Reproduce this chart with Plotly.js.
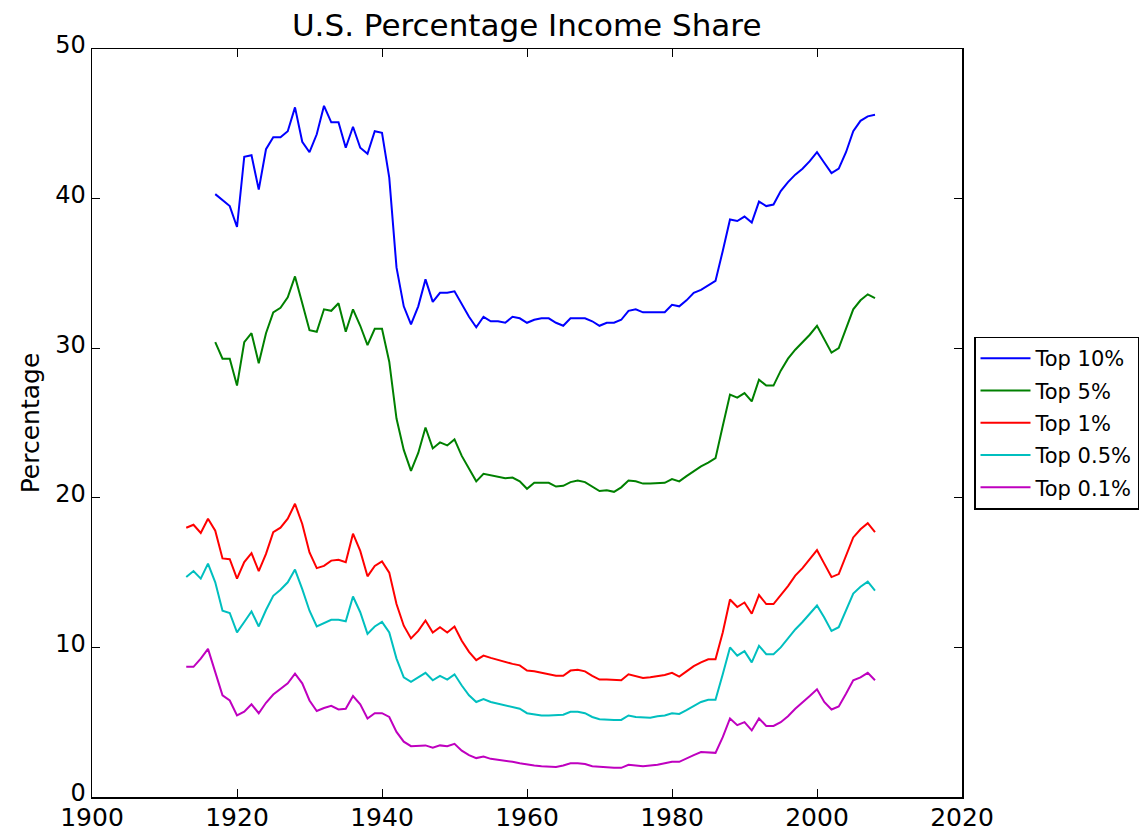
<!DOCTYPE html>
<html>
<head>
<meta charset="utf-8">
<script src="https://cdn.plot.ly/plotly-3.0.1.min.js"></script>
<style>html,body{margin:0;padding:0;background:#fff;}#chart{width:1145px;height:831px;}</style>
</head>
<body>
<div id="chart"></div>
<script>
// Years 1913-2008
var years = [1913,1914,1915,1916,1917,1918,1919,1920,1921,1922,1923,1924,1925,1926,1927,1928,1929,1930,
1931,1932,1933,1934,1935,1936,1937,1938,1939,1940,1941,1942,1943,1944,1945,1946,1947,1948,1949,1950,
1951,1952,1953,1954,1955,1956,1957,1958,1959,1960,1961,1962,1963,1964,1965,1966,1967,1968,1969,1970,
1971,1972,1973,1974,1975,1976,1977,1978,1979,1980,1981,1982,1983,1984,1985,1986,1987,1988,1989,1990,
1991,1992,1993,1994,1995,1996,1997,1998,1999,2000,2001,2002,2003,2004,2005,2006,2007,2008];

// Top 10% and Top 5% start in 1917
var top10 = [40.3,39.9,39.5,38.1,42.8,42.9,40.6,43.3,44.1,44.1,44.5,46.1,43.8,43.1,44.3,46.2,45.1,45.1,
43.4,44.8,43.4,43.0,44.5,44.4,41.4,35.4,32.8,31.6,32.8,34.6,33.1,33.7,33.7,33.8,32.9,32.1,31.4,32.1,
31.8,31.8,31.7,32.1,32.0,31.7,31.9,32.0,32.0,31.7,31.5,32.0,32.0,32.0,31.8,31.5,31.7,31.7,31.9,32.5,
32.6,32.4,32.4,32.4,32.4,32.9,32.8,33.2,33.7,33.9,34.2,34.5,36.5,38.6,38.5,38.8,38.4,39.8,39.5,39.6,
40.5,41.1,41.6,42.0,42.5,43.1,42.4,41.7,42.0,43.1,44.5,45.2,45.5,45.6];

var top5 = [30.4,29.3,29.3,27.5,30.4,31.0,29.0,31.0,32.4,32.7,33.4,34.8,33.0,31.2,31.1,32.6,32.5,33.0,
31.1,32.6,31.5,30.2,31.3,31.3,29.1,25.3,23.2,21.8,23.0,24.7,23.3,23.7,23.5,23.9,22.8,21.9,21.1,21.6,
21.5,21.4,21.3,21.35,21.1,20.6,21.0,21.0,21.0,20.75,20.8,21.05,21.15,21.05,20.75,20.45,20.5,20.4,20.7,21.15,
21.1,20.95,20.95,20.95,21.0,21.25,21.1,21.45,21.8,22.1,22.35,22.65,24.8,26.9,26.7,27.0,26.45,27.9,27.5,27.5,
28.5,29.3,29.9,30.4,30.9,31.5,30.6,29.7,30.0,31.3,32.6,33.2,33.6,33.35];

// Top 1%, 0.5%, 0.1% start in 1913
var top1 = [18.0,18.2,17.65,18.6,17.8,15.95,15.9,14.6,15.7,16.3,15.1,16.25,17.7,18.0,18.6,19.6,18.25,16.35,
15.3,15.45,15.8,15.85,15.7,17.6,16.45,14.75,15.45,15.75,15.0,12.9,11.45,10.6,11.1,11.8,11.0,11.35,11.0,11.4,
10.45,9.7,9.15,9.45,9.3,9.15,9.0,8.9,8.8,8.45,8.4,8.3,8.25,8.1,8.1,8.45,8.5,8.4,8.1,7.85,
7.85,7.8,7.8,8.2,8.05,7.95,8.0,8.05,8.15,8.3,8.05,8.4,8.75,9.0,9.2,9.2,11.0,13.2,12.7,13.0,
12.25,13.5,12.9,12.9,13.5,14.1,14.8,15.3,15.9,16.5,15.6,14.7,14.9,16.1,17.35,17.9,18.3,17.7];

var top05 = [14.7,15.1,14.6,15.6,14.35,12.45,12.3,11.0,11.7,12.4,11.4,12.5,13.45,13.85,14.35,15.2,13.9,12.45,
11.4,11.6,11.85,11.85,11.75,13.4,12.35,10.9,11.4,11.7,11.0,9.25,8.0,7.7,8.0,8.3,7.8,8.1,7.85,8.2,
7.45,6.8,6.35,6.55,6.35,6.25,6.15,6.05,5.9,5.6,5.5,5.45,5.45,5.45,5.5,5.7,5.7,5.6,5.35,5.2,
5.15,5.15,5.15,5.45,5.35,5.3,5.3,5.4,5.45,5.6,5.55,5.8,6.1,6.35,6.5,6.5,8.2,10.0,9.45,9.75,
9.0,10.1,9.55,9.55,10.0,10.6,11.2,11.7,12.25,12.8,12.0,11.1,11.35,12.45,13.6,14.05,14.4,13.8];

var top01 = [8.7,8.7,9.25,9.9,8.35,6.8,6.45,5.45,5.7,6.2,5.6,6.3,6.85,7.2,7.6,8.25,7.6,6.45,
5.75,5.95,6.1,5.85,5.9,6.75,6.2,5.25,5.6,5.6,5.35,4.35,3.7,3.4,3.4,3.45,3.3,3.45,3.4,3.55,
3.1,2.8,2.6,2.7,2.55,2.5,2.4,2.35,2.25,2.15,2.1,2.05,2.0,2.0,2.1,2.25,2.25,2.2,2.05,2.0,
2.0,1.95,1.95,2.15,2.1,2.05,2.1,2.15,2.25,2.35,2.35,2.6,2.8,3.0,3.0,2.95,4.0,5.25,4.8,5.0,
4.45,5.25,4.75,4.75,5.0,5.4,5.9,6.3,6.75,7.2,6.35,5.85,6.05,6.9,7.8,8.0,8.3,7.8];

var seriesNames = ['Top 10%','Top 5%','Top 1%','Top 0.5%','Top 0.1%'];
var xTickVals = [1900,1920,1940,1960,1980,2000,2020];
var yTickVals = [0,10,20,30,40,50];

var years1917 = years.slice(years.indexOf(1917));
var seriesData = [
  {x: years1917, y: top10, color: '#0000ff'},
  {x: years1917, y: top5,  color: '#008000'},
  {x: years,     y: top1,  color: '#ff0000'},
  {x: years,     y: top05, color: '#00bfbf'},
  {x: years,     y: top01, color: '#bf00bf'}
];

var traces = seriesData.map(function(s, i){
  return {x: s.x, y: s.y, type: 'scatter', mode: 'lines', name: seriesNames[i],
          legendgroup: 'g' + i,
          line: {color: s.color, width: 2}};
});

var font = 'DejaVu Sans, sans-serif';
var axisCommon = {
  showline: true, linecolor: '#000', linewidth: 1.5, mirror: 'ticks',
  ticks: 'inside', ticklen: 8, tickwidth: 1, tickcolor: '#000',
  showgrid: false, zeroline: false, automargin: false
};

var layout = {
  width: 1145, height: 831,
  paper_bgcolor: '#fff', plot_bgcolor: '#fff',
  margin: {l: 91.5, r: 183, t: 48.7, b: 34.3, pad: 0, autoexpand: false},
  title: {text: 'U.S. Percentage Income Share', font: {family: font, size: 31, color: '#000'},
          x: 0.46, xanchor: 'center', y: 0.97, yanchor: 'middle', yref: 'container'},
  xaxis: Object.assign({}, axisCommon, {range: [1900, 2020], tickvals: xTickVals, ticktext: xTickVals.map(String),
          tickfont: {family: font, size: 25, color: '#000'}, ticklabelstandoff: -3}),
  yaxis: Object.assign({}, axisCommon, {range: [0, 50], tickvals: yTickVals, ticktext: yTickVals.map(String),
          tickfont: {family: font, size: 24, color: '#000'}, ticklabelshift: -4,
          title: {text: 'Percentage', font: {family: font, size: 25, color: '#000'}, standoff: 8}}),
  legend: {x: 1.0138, xanchor: 'left', y: 0.5, yanchor: 'middle',
           bgcolor: '#fff', bordercolor: '#000', borderwidth: 1.5,
           itemwidth: 50, traceorder: 'grouped', tracegroupgap: 2,
           font: {family: font, size: 21, color: '#000'}},
  showlegend: true
};

Plotly.newPlot('chart', traces, layout, {displayModeBar: false, staticPlot: true});
</script>
</body>
</html>
